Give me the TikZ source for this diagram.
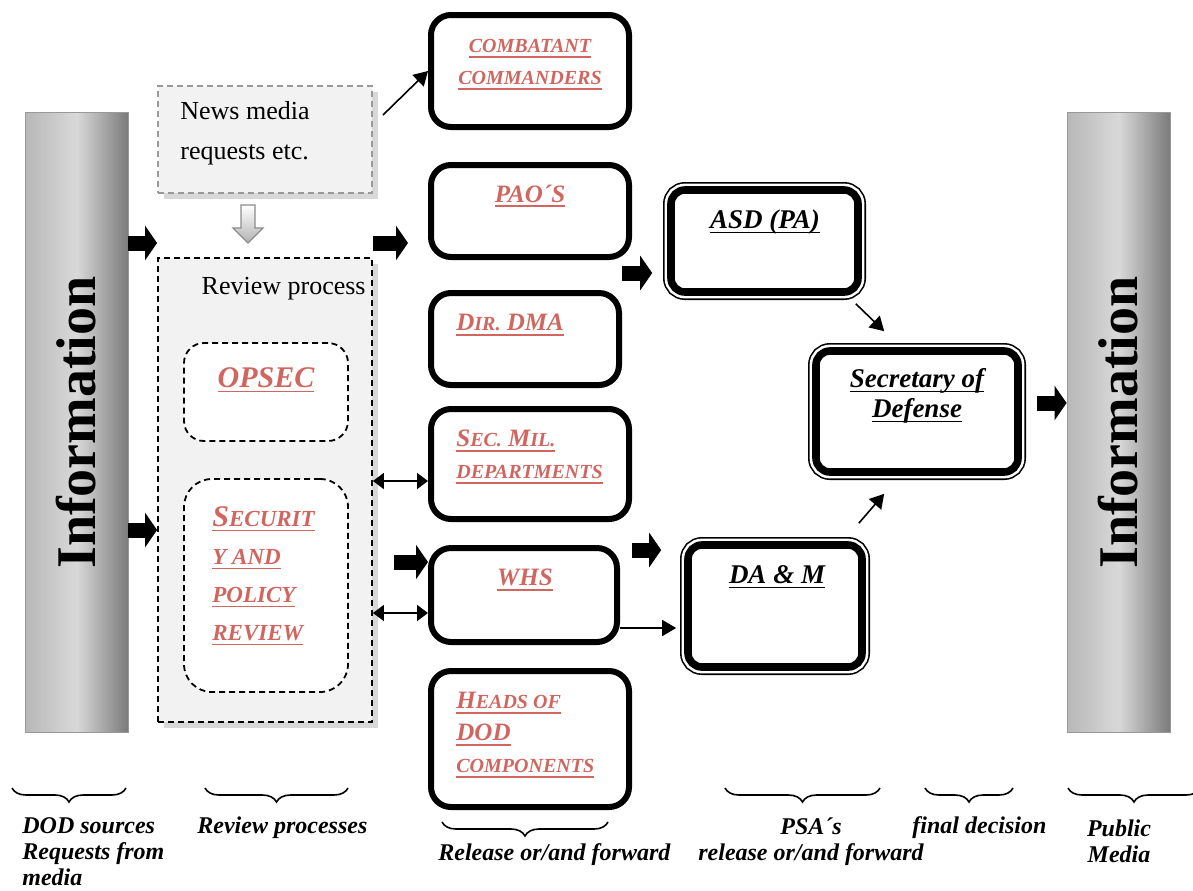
\documentclass[tikz,border=0pt]{standalone}
\usepackage{fontspec}
\setmainfont{Liberation Serif}
\usetikzlibrary{positioning,shapes,arrows.meta,shadows,decorations.pathreplacing}

\definecolor{redtxt}{RGB}{208,102,95}

% heavier underline
\newcommand{\ul}[1]{\setbox0\hbox{#1}\rlap{\rule[-2.4pt]{\wd0}{0.9pt}}\box0}
% fake small caps
\newcommand{\smc}[2][10]{{\fontsize{#1}{#1}\selectfont #2}}

\begin{document}
\begin{tikzpicture}[x=0.5pt, y=-0.5pt]
  \tikzstyle{infobar} = [draw=black!40, left color=black!28, right color=black!52, middle color=black!15, minimum width=51.5pt, minimum height=310pt, font=\bfseries\fontsize{28}{30}\selectfont]
  \tikzstyle{thickbox} = [draw, line width=3pt, rounded corners=10pt, fill=white]
  \tikzstyle{dblbox} = [draw, line width=3.8pt, rounded corners=7pt, fill=white, preaction={draw, line width=8pt}, preaction={draw=white, line width=6.4pt}]
  \tikzstyle{newsbox} = [draw=black!40, dash pattern=on 3pt off 2pt, line width=0.9pt, fill=black!5, drop shadow={shadow xshift=3pt, shadow yshift=-3pt, fill=black!30}]
  \tikzstyle{revbox} = [draw, dash pattern=on 3pt off 2pt, line width=0.9pt, fill=black!5, drop shadow={shadow xshift=3pt, shadow yshift=-3pt, fill=black!30}]
  \tikzstyle{subbox} = [draw, dash pattern=on 3pt off 2pt, line width=0.9pt, fill=white, rounded corners=10pt]
  \tikzstyle{plain} = [inner sep=0pt, font=\fontsize{13}{20}\selectfont, align=left]
  \tikzstyle{redlbl} = [inner sep=0pt, text=redtxt, font=\bfseries\itshape\fontsize{12.5}{16}\selectfont]
  \tikzstyle{redbig} = [inner sep=0pt, text=redtxt, font=\bfseries\itshape\fontsize{15}{19}\selectfont]
  \tikzstyle{blklbl} = [inner sep=0pt, align=center, font=\bfseries\itshape\fontsize{13.5}{15}\selectfont]
  \tikzstyle{botlbl} = [inner sep=0pt, font=\bfseries\itshape\fontsize{12}{13}\selectfont]
  \tikzstyle{blk} = [line width=7.5pt, -{Triangle[length=6pt, width=17pt]}]
  \tikzstyle{thinarr} = [line width=0.8pt, -{Triangle[length=7pt, width=8pt]}]
  \tikzstyle{dblarr} = [line width=0.8pt, {Triangle[length=5.5pt, width=8pt]}-{Triangle[length=5.5pt, width=8pt]}]
  \tikzstyle{brc} = [decorate, decoration={brace, mirror, amplitude=7pt}, line width=0.8pt]

  \useasboundingbox (0,0) rectangle (1193,890);

  % sources and public media
  \node[infobar] (infoL) at (76.5,422.5) {\rotatebox{90}{Information}};
  \node[infobar] (infoR) at (1118.5,422.5) {\rotatebox{90}{Information}};

  % review column
  \node[newsbox, minimum width=107pt, minimum height=53.5pt] (news) at (265,139.5) {};
  \node[plain, anchor=west] (newst) at (180,133) {News media\\requests etc.};
  \node[revbox, minimum width=107pt, minimum height=232pt] (review) at (265,490) {};
  \node[plain, anchor=east] (revt) at (366,289) {Review process};
  \node[subbox, minimum width=82pt, minimum height=49pt] (opsec) at (266,392) {};
  \node[redbig] (opsect) at (266,380) {\ul{OPSEC}};
  \node[subbox, rounded corners=14pt, minimum width=82pt, minimum height=106.5pt] (secur) at (266,585.5) {};
  \node[redbig, align=left, anchor=west] (securt) at (212,576)
    {\ul{S\smc[11.5]{ECURIT}}\\\ul{\smc[11.5]{Y AND}}\\\ul{\smc[11.5]{POLICY}}\\\ul{\smc[11.5]{REVIEW}}};
  \draw[draw=black!45, top color=white, bottom color=black!30, line width=0.6pt]
    (241,205) -- (255,205) -- (255,228) -- (263,228) -- (248,243) -- (233,228) -- (241,228) -- cycle;

  % release or forward
  \node[thickbox, minimum width=99pt, minimum height=56pt] (comb) at (530,71) {};
  \node[redlbl, align=center] (combt) at (530,64.5) {\ul{\smc{COMBATANT}}\\\ul{\smc{COMMANDERS}}};
  \node[thickbox, minimum width=99pt, minimum height=46pt] (pao) at (530,211) {};
  \node[redlbl] (paot) at (530,196) {\ul{PAO´S}};
  \node[thickbox, minimum width=94pt, minimum height=46pt] (dma) at (525,339) {};
  \node[redlbl, anchor=west] (dmat) at (456,325) {\ul{D\smc{IR.} DMA}};
  \node[thickbox, minimum width=99pt, minimum height=55pt] (secmil) at (530,464) {};
  \node[redlbl, align=left, anchor=west] (secmilt) at (456,457) {\ul{S\smc{EC.} M\smc{IL.}}\\\ul{\smc{DEPARTMENTS}}};
  \node[thickbox, minimum width=93pt, minimum height=47pt] (whs) at (524,595) {};
  \node[redlbl] (whst) at (525,580) {\ul{WHS}};
  \node[thickbox, minimum width=99pt, minimum height=68pt] (heads) at (530,739) {};
  \node[redlbl, align=left, anchor=west] (headst) at (456,735) {\ul{H\smc{EADS OF}}\\\ul{DOD}\\\ul{\smc{COMPONENTS}}};

  % PSA's and final decision
  \node[dblbox, minimum width=93.5pt, minimum height=51pt] (asd) at (764.5,241) {};
  \node[blklbl] (asdt) at (765,222) {\ul{ASD (PA)}};
  \node[dblbox, minimum width=101pt, minimum height=60.5pt] (secdef) at (917,411.5) {};
  \node[blklbl] (secdeft) at (917,396) {\ul{Secretary of}\\\ul{Defense}};
  \node[dblbox, minimum width=87pt, minimum height=61pt] (dam) at (775,606) {};
  \node[blklbl] (damt) at (777,577) {\ul{DA \& M}};

  % rows of the block arrows
  \coordinate (rowa) at (0,243);
  \coordinate (rowb) at (0,530);
  \coordinate (rowc) at (0,562);
  \coordinate (rowd) at (0,273);
  \coordinate (rowe) at (0,550);
  \coordinate (rowf) at (0,403);
  \coordinate (rowg) at (0,628);
  \coordinate (rowh) at (0,481);
  \coordinate (rowi) at (0,613);
  \coordinate (newsout) at (383,115);

  \draw[blk] (infoL.east |- rowa) -- (review.west |- rowa);
  \draw[blk] (infoL.east |- rowb) -- (review.west |- rowb);
  \draw[blk] (review.east |- rowa) -- ([xshift=-10pt]pao.west |- rowa);
  \draw[blk] ([xshift=-17pt]whs.west |- rowc) -- (whs.west |- rowc);
  \draw[blk] (dma.east |- rowd) -- ([xshift=-7.5pt]asd.west |- rowd);
  \draw[blk] ([xshift=6pt]whs.east |- rowe) -- ([xshift=-11.5pt]dam.west |- rowe);
  \draw[blk] ([xshift=7.5pt]secdef.east |- rowf) -- (infoR.west |- rowf);

  \draw[thinarr] (newsout) -- (comb.west);
  \draw[thinarr] ([xshift=-3pt,yshift=-4pt]asd.south east) -- ([xshift=36pt,yshift=8pt]secdef.north west);
  \draw[thinarr] ([xshift=-3.5pt,yshift=9pt]dam.north east) -- ([xshift=36pt,yshift=-9pt]secdef.south west);
  \draw[thinarr] (whs.east |- rowg) -- ([xshift=-4pt]dam.west |- rowg);
  \draw[dblarr] (review.east |- rowh) -- (secmil.west |- rowh);
  \draw[dblarr] (review.east |- rowi) -- (whs.west |- rowi);

  % braces and captions
  \draw[brc] (12,788) -- (126,788);
  \draw[brc] (205,788) -- (348,788);
  \draw[brc] (442,822) -- (608,822);
  \draw[brc] (725,788) -- (880,788);
  \draw[brc] (925,788) -- (1013,788);
  \draw[brc] (1068,788) -- (1200,788);

  \node[botlbl, align=left, anchor=west] (srcl) at (22,852) {DOD sources\\Requests from\\media};
  \node[botlbl, anchor=west] (revl) at (197,828) {Review processes};
  \node[botlbl, anchor=west] (rell) at (438,855) {Release or/and forward};
  \node[botlbl, align=center] (psal) at (811,841.5) {PSA´s\\release or/and forward};
  \node[botlbl, anchor=west] (finl) at (912,828) {final decision};
  \node[botlbl, align=center] (publ) at (1119,841.5) {Public\\Media};
\end{tikzpicture}
\end{document}
